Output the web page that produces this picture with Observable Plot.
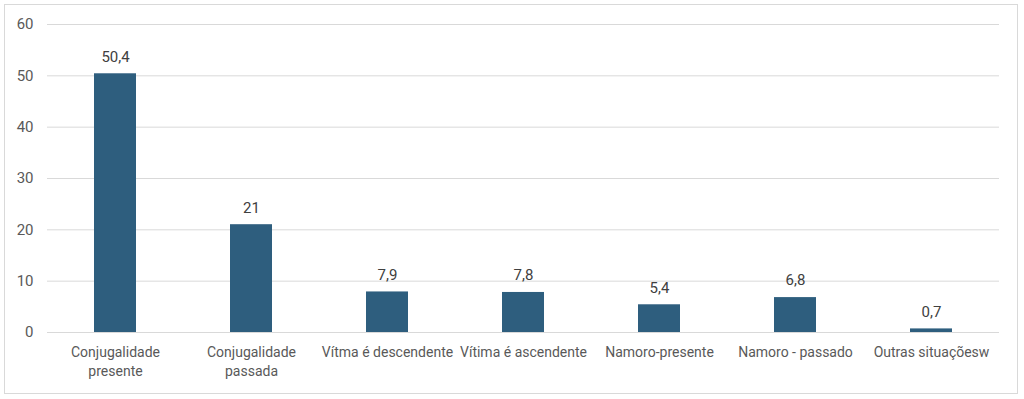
<!DOCTYPE html>
<html>
<head>
<meta charset="utf-8">
<script src="https://cdn.jsdelivr.net/npm/d3@7"></script>
<script src="https://cdn.jsdelivr.net/npm/@observablehq/plot@0.6"></script>
<style>
  html, body { margin: 0; padding: 0; background: #fff; }
  #wrap { position: relative; width: 1024px; height: 399px; }
  #frame { position: absolute; left: 4px; top: 4px; width: 1012px; height: 388px; border: 1px solid #d9d9d9; pointer-events: none; }
  svg { display: block; }
</style>
</head>
<body>
<div id="wrap"><div id="frame"></div></div>
<script>
const categories = [
  "Conjugalidade presente",
  "Conjugalidade passada",
  "Vítma é descendente",
  "Vítima é ascendente",
  "Namoro-presente",
  "Namoro - passado",
  "Outras situaçõesw"
];
const tickLabels = [
  "Conjugalidade\npresente",
  "Conjugalidade\npassada",
  "Vítma é descendente",
  "Vítima é ascendente",
  "Namoro-presente",
  "Namoro - passado",
  "Outras situaçõesw"
];
const values = [50.4, 21, 7.9, 7.8, 5.4, 6.8, 0.7];
const yTicks = [0, 10, 20, 30, 40, 50, 60];

const data = categories.map((c, i) => ({category: c, value: values[i]}));
const labelOf = new Map(categories.map((c, i) => [c, tickLabels[i]]));
const fmt = v => String(v).replace(".", ",");

const chart = Plot.plot({
  width: 1024,
  height: 399,
  marginTop: 24,
  marginBottom: 67,
  marginLeft: 47,
  marginRight: 25,
  style: {fontFamily: "Roboto, 'Open Sans', sans-serif", fontSize: "14px", color: "#595959", background: "transparent"},
  x: {domain: categories, paddingInner: 0.691, paddingOuter: 0.3455, label: null},
  y: {domain: [0, 60], label: null},
  marks: [
    Plot.gridY(yTicks, {stroke: "#d9d9d9", strokeOpacity: 1, strokeWidth: 1}),
    Plot.barY(data, {x: "category", y: "value", fill: "#2e5e7e"}),
    Plot.text(data, {x: "category", y: "value", text: d => fmt(d.value), dy: -17, fill: "#404040", fontSize: 15}),
    Plot.axisY({ticks: yTicks, tickSize: 0, tickPadding: 14, fontSize: 15, fill: "#595959", label: null}),
    Plot.axisX({tickSize: 0, tickPadding: 11, fontSize: 14, fill: "#595959", lineHeight: 1.35, tickFormat: c => labelOf.get(c), label: null})
  ]
});
document.getElementById("wrap").prepend(chart);
</script>
</body>
</html>
